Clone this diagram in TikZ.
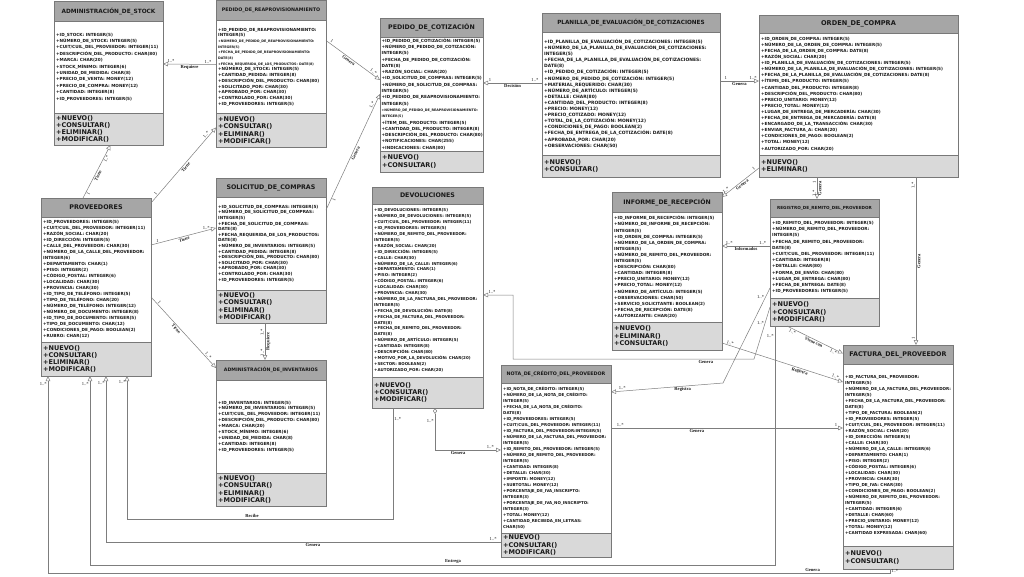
\documentclass[tikz,border=0pt]{standalone}
\usepackage{fontspec}
\setmainfont{DejaVu Sans}
\newfontfamily\serifschrift{Liberation Serif}
\usetikzlibrary{positioning,calc,arrows.meta}

\definecolor{kopfgrau}{RGB}{166,166,166}
\definecolor{methgrau}{RGB}{217,217,217}
\definecolor{rahmen}{RGB}{120,120,120}
\definecolor{liniengrau}{RGB}{125,125,125}
\definecolor{schrift}{RGB}{25,25,25}

\newcommand{\kopfschrift}[1]{\fontsize{#1}{#1}\selectfont\bfseries}
\newcommand{\attrschrift}[2]{\fontsize{#1}{#2}\selectfont\bfseries}
\newcommand{\klein}{\fontsize{3.3}{5}\selectfont}
\newcommand{\methschrift}{\fontsize{6.5}{7.3}\selectfont\bfseries}
\newcommand{\rollenschrift}{\serifschrift\fontsize{4.6}{5}\selectfont\bfseries}
\newcommand{\multschrift}{\serifschrift\fontsize{4.6}{5}\selectfont}

\tikzset{
  kopf/.style={draw=rahmen, fill=kopfgrau, line width=0.6pt, anchor=north west, inner sep=0pt, outer sep=0pt},
  feld/.style={draw=rahmen, fill=white, line width=0.6pt, inner sep=0pt, outer sep=0pt},
  methfeld/.style={feld, fill=methgrau},
  titel/.style={text=schrift, inner sep=0pt, align=center},
  attrtext/.style={text=schrift, inner sep=0pt, align=left, font=\attrschrift{4.2}{6}},
  methtext/.style={text=schrift, inner sep=0pt, align=left, font=\methschrift},
  verbindung/.style={draw=liniengrau, line width=0.5pt},
  pfeil/.style={verbindung, -{Triangle[open, length=5pt, width=4.5pt]}},
  rpfeil/.style={verbindung, {Triangle[open, length=5pt, width=4.5pt]}-},
  rolle/.style={text=schrift, inner sep=1pt, font=\rollenschrift},
  mult/.style={text=schrift, inner sep=1pt, font=\multschrift},
}

\begin{document}
\begin{tikzpicture}[x=1pt, y=-1pt]
    \useasboundingbox (0,0) rectangle (1024,576);

    % Rahmen der Klassen: Name/x/y/Breite/Kopf/Attribute/Methoden
    \foreach \klasse/\x/\y/\w/\hk/\ha/\hm in {stock/54/1/109/20/92/32,
                                             reapro/216/0.5/110/20/93/34,
                                             cotiz/380/18/103/19/114/21,
                                             planilla/542/13/178/19/123/22,
                                             orden/759/15/199/18/122/22,
                                             prov/41/198/110/19/125/34,
                                             solic/216/178/110/19/93/33,
                                             invent/216/360/110/20/93/33,
                                             devol/372/187/111/17/173/31,
                                             nota/501/365/110/18/150/24,
                                             informe/612/192/110/20/110/28,
                                             remito/770/199/109/18/81/28,
                                             factura/843/345/110/19/182/23}
        {
            \node[kopf, minimum width=\w pt, minimum height=\hk pt] (\klasse) at (\x,\y) {};
            \node[feld, minimum width=\w pt, minimum height=\ha pt, below=0pt of \klasse] (\klasse-a) {};
            \node[methfeld, minimum width=\w pt, minimum height=\hm pt, below=0pt of \klasse-a] (\klasse-m) {};
        }

    % ADMINISTRACIÓN_DE_STOCK
    \node[titel, font=\kopfschrift{5.8}] (stock-t) at (stock) {ADMINISTRACIÓN\_DE\_STOCK};
    \node[attrtext, font=\attrschrift{4.2}{6.4}, right=2pt of stock-a.west] (stock-at) {+ID\_STOCK: INTEGER(5)\\+NÚMERO\_DE\_STOCK: INTEGER(5)\\+CUIT/CUIL\_DEL\_PROVEEDOR: INTEGER(11)\\+DESCRIPCIÓN\_DEL\_PRODUCTO: CHAR(80)\\+MARCA: CHAR(20)\\+STOCK\_MÍNIMO: INTEGER(6)\\+UNIDAD\_DE\_MEDIDA: CHAR(8)\\+PRECIO\_DE\_VENTA: MONEY(12)\\+PRECIO\_DE\_COMPRA: MONEY(12)\\+CANTIDAD: INTEGER(8)\\+ID\_PROVEEDORES: INTEGER(5)};
    \node[methtext, right=2pt of stock-m.west] (stock-mt) {+NUEVO()\\+CONSULTAR()\\+ELIMINAR()\\+MODIFICAR()};

    % PEDIDO_DE_REAPROVISIONAMIENTO
    \node[titel, font=\kopfschrift{4.8}] (reapro-t) at (reapro) {PEDIDO\_DE\_REAPROVISIONAMIENTO};
    \node[attrtext, font=\attrschrift{4.2}{5.7}, right=2pt of reapro-a.west] (reapro-at) {+ID\_PEDIDO\_DE\_REAPROVISIONAMIENTO:\\INTEGER(5)\\{\klein +NÚMERO\_DE\_PEDIDO\_DE\_REAPROVISIONAMIENTO:}\\{\klein INTEGER(5)}\\{\klein +FECHA\_DE\_PEDIDO\_DE\_REAPROVISIONAMIENTO:}\\{\klein DATE(8)}\\{\klein +FECHA\_REQUERIDA\_DE\_LOS\_PRODUCTOS: DATE(8)}\\+NÚMERO\_DE\_STOCK: INTEGER(5)\\+CANTIDAD\_PEDIDA: INTEGER(8)\\+DESCRIPCIÓN\_DEL\_PRODUCTO: CHAR(80)\\+SOLICITADO\_POR: CHAR(30)\\+APROBADO\_POR: CHAR(30)\\+CONTROLADO\_POR: CHAR(30)\\+ID\_PROVEEDORES: INTEGER(5)};
    \node[methtext, right=2pt of reapro-m.west] (reapro-mt) {+NUEVO()\\+CONSULTAR()\\+ELIMINAR()\\+MODIFICAR()};

    % PEDIDO_DE_COTIZACIÓN
    \node[titel, font=\kopfschrift{6.3}] (cotiz-t) at (cotiz) {PEDIDO\_DE\_COTIZACIÓN};
    \node[attrtext, font=\attrschrift{4.2}{6.3}, right=1.5pt of cotiz-a.west] (cotiz-at) {+ID\_PEDIDO\_DE\_COTIZACIÓN: INTEGER(5)\\+NÚMERO\_DE\_PEDIDO\_DE\_COTIZACIÓN:\\INTEGER(5)\\+FECHA\_DE\_PEDIDO\_DE\_COTIZACIÓN:\\DATE(8)\\+RAZÓN\_SOCIAL: CHAR(20)\\+ID\_SOLICITUD\_DE\_COMPRAS: INTEGER(5)\\+NÚMERO\_DE\_SOLICITUD\_DE\_COMPRAS:\\INTEGER(5)\\+ID\_PEDIDO\_DE\_REAPROVISIONAMIENTO:\\INTEGER(5)\\{\klein +NÚMERO\_DE\_PEDIDO\_DE\_REAPROVISIONAMIENTO:}\\{\klein INTEGER(5)}\\+ÍTEM\_DEL\_PRODUCTO: INTEGER(5)\\+CANTIDAD\_DEL\_PRODUCTO: INTEGER(8)\\+DESCRIPCIÓN\_DEL\_PRODUCTO: CHAR(80)\\+NOTIFICACIONES: CHAR(255)\\+INDICACIONES: CHAR(80)};
    \node[methtext, right=2pt of cotiz-m.west] (cotiz-mt) {+NUEVO()\\+CONSULTAR()};

    % PLANILLA_DE_EVALUACIÓN_DE_COTIZACIONES
    \node[titel, font=\kopfschrift{5.7}] (planilla-t) at (planilla) {PLANILLA\_DE\_EVALUACIÓN\_DE\_COTIZACIONES};
    \node[attrtext, font=\attrschrift{4.45}{6.1}, right=2pt of planilla-a.west] (planilla-at) {+ID\_PLANILLA\_DE\_EVALUACIÓN\_DE\_COTIZACIONES: INTEGER(5)\\+NÚMERO\_DE\_LA\_PLANILLA\_DE\_EVALUACIÓN\_DE\_COTIZACIONES:\\INTEGER(5)\\+FECHA\_DE\_LA\_PLANILLA\_DE\_EVALUACIÓN\_DE\_COTIZACIONES:\\DATE(8)\\+ID\_PEDIDO\_DE\_COTIZACIÓN: INTEGER(5)\\+NÚMERO\_DE\_PEDIDO\_DE\_COTIZACIÓN: INTEGER(5)\\+MATERIAL\_REQUERIDO: CHAR(30)\\+NÚMERO\_DE\_ARTÍCULO: INTEGER(5)\\+DETALLE: CHAR(80)\\+CANTIDAD\_DEL\_PRODUCTO: INTEGER(8)\\+PRECIO: MONEY(12)\\+PRECIO\_COTIZADO: MONEY(12)\\+TOTAL\_DE\_LA\_COTIZACIÓN: MONEY(12)\\+CONDICIONES\_DE\_PAGO: BOOLEAN(2)\\+FECHA\_DE\_ENTREGA\_DE\_LA\_COTIZACIÓN: DATE(8)\\+APROBADA\_POR: CHAR(20)\\+OBSERVACIONES: CHAR(50)};
    \node[methtext, right=2pt of planilla-m.west] (planilla-mt) {+NUEVO()\\+CONSULTAR()};

    % ORDEN_DE_COMPRA
    \node[titel, font=\kopfschrift{6.6}] (orden-t) at (orden) {ORDEN\_DE\_COMPRA};
    \node[attrtext, font=\attrschrift{4.2}{6.1}, right=2pt of orden-a.west] (orden-at) {+ID\_ORDEN\_DE\_COMPRA: INTEGER(5)\\+NÚMERO\_DE\_LA\_ORDEN\_DE\_COMPRA: INTEGER(5)\\+FECHA\_DE\_LA\_ORDEN\_DE\_COMPRA: DATE(8)\\+RAZÓN\_SOCIAL: CHAR(20)\\+ID\_PLANILLA\_DE\_EVALUACIÓN\_DE\_COTIZACIONES: INTEGER(5)\\+NÚMERO\_DE\_LA\_PLANILLA\_DE\_EVALUACIÓN\_DE\_COTIZACIONES: INTEGER(5)\\+FECHA\_DE\_LA\_PLANILLA\_DE\_EVALUACIÓN\_DE\_COTIZACIONES: DATE(8)\\+ÍTEMS\_DEL\_PRODUCTO: INTEGER(5)\\+CANTIDAD\_DEL\_PRODUCTO: INTEGER(8)\\+DESCRIPCIÓN\_DEL\_PRODUCTO: CHAR(80)\\+PRECIO\_UNITARIO: MONEY(12)\\+PRECIO\_TOTAL: MONEY(12)\\+LUGAR\_DE\_ENTREGA\_DE\_MERCADERÍA: CHAR(30)\\+FECHA\_DE\_ENTREGA\_DE\_MERCADERÍA: DATE(8)\\+ENCARGADO\_DE\_LA\_TRANSACCIÓN: CHAR(30)\\+ENVIAR\_FACTURA\_A: CHAR(20)\\+CONDICIONES\_DE\_PAGO: BOOLEAN(2)\\+TOTAL: MONEY(12)\\+AUTORIZADO\_POR: CHAR(20)};
    \node[methtext, right=2pt of orden-m.west] (orden-mt) {+NUEVO()\\+ELIMINAR()};

    % PROVEEDORES
    \node[titel, font=\kopfschrift{6.4}] (prov-t) at (prov) {PROVEEDORES};
    \node[attrtext, right=2pt of prov-a.west] (prov-at) {+ID\_PROVEEDORES: INTEGER(5)\\+CUIT/CUIL\_DEL\_PROVEEDOR: INTEGER(11)\\+RAZÓN\_SOCIAL: CHAR(20)\\+ID\_DIRECCIÓN: INTEGER(5)\\+CALLE\_DEL\_PROVEEDOR: CHAR(30)\\+NÚMERO\_DE\_LA\_CALLE\_DEL\_PROVEEDOR:\\INTEGER(6)\\+DEPARTAMENTO: CHAR(1)\\+PISO: INTEGER(2)\\+CÓDIGO\_POSTAL: INTEGER(6)\\+LOCALIDAD: CHAR(30)\\+PROVINCIA: CHAR(30)\\+ID\_TIPO\_DE\_TELÉFONO: INTEGER(5)\\+TIPO\_DE\_TELÉFONO: CHAR(20)\\+NÚMERO\_DE\_TELÉFONO: INTEGER(12)\\+NÚMERO\_DE\_DOCUMENTO: INTEGER(8)\\+ID\_TIPO\_DE\_DOCUMENTO: INTEGER(5)\\+TIPO\_DE\_DOCUMENTO: CHAR(12)\\+CONDICIONES\_DE\_PAGO: BOOLEAN(2)\\+RUBRO: CHAR(12)};
    \node[methtext, right=2pt of prov-m.west] (prov-mt) {+NUEVO()\\+CONSULTAR()\\+ELIMINAR()\\+MODIFICAR()};

    % SOLICITUD_DE_COMPRAS
    \node[titel, font=\kopfschrift{6.3}] (solic-t) at (solic) {SOLICITUD\_DE\_COMPRAS};
    \node[attrtext, font=\attrschrift{4.2}{5.6}, right=2pt of solic-a.west] (solic-at) {+ID\_SOLICITUD\_DE\_COMPRAS: INTEGER(5)\\+NÚMERO\_DE\_SOLICITUD\_DE\_COMPRAS:\\INTEGER(5)\\+FECHA\_DE\_SOLICITUD\_DE\_COMPRAS:\\DATE(8)\\+FECHA\_REQUERIDA\_DE\_LOS\_PRODUCTOS:\\DATE(8)\\+NÚMERO\_DE\_INVENTARIOS: INTEGER(5)\\+CANTIDAD\_PEDIDA: INTEGER(8)\\+DESCRIPCIÓN\_DEL\_PRODUCTO: CHAR(80)\\+SOLICITADO\_POR: CHAR(30)\\+APROBADO\_POR: CHAR(30)\\+CONTROLADO\_POR: CHAR(30)\\+ID\_PROVEEDORES: INTEGER(5)};
    \node[methtext, right=2pt of solic-m.west] (solic-mt) {+NUEVO()\\+CONSULTAR()\\+ELIMINAR()\\+MODIFICAR()};

    % ADMINISTRACIÓN_DE_INVENTARIOS
    \node[titel, font=\kopfschrift{4.7}] (invent-t) at (invent) {ADMINISTRACIÓN\_DE\_INVENTARIOS};
    \node[attrtext, font=\attrschrift{4.2}{5.9}, right=2pt of invent-a.west] (invent-at) {+ID\_INVENTARIOS: INTEGER(5)\\+NÚMERO\_DE\_INVENTARIOS: INTEGER(5)\\+CUIT/CUIL\_DEL\_PROVEEDOR: INTEGER(11)\\+DESCRIPCIÓN\_DEL\_PRODUCTO: CHAR(80)\\+MARCA: CHAR(20)\\+STOCK\_MÍNIMO: INTEGER(6)\\+UNIDAD\_DE\_MEDIDA: CHAR(8)\\+CANTIDAD: INTEGER(8)\\+ID\_PROVEEDORES: INTEGER(5)};
    \node[methtext, right=2pt of invent-m.west] (invent-mt) {+NUEVO()\\+CONSULTAR()\\+ELIMINAR()\\+MODIFICAR()};

    % DEVOLUCIONES
    \node[titel, font=\kopfschrift{6.3}] (devol-t) at (devol) {DEVOLUCIONES};
    \node[attrtext, font=\attrschrift{4.0}{5.9}, right=2pt of devol-a.west] (devol-at) {+ID\_DEVOLUCIONES: INTEGER(5)\\+NÚMERO\_DE\_DEVOLUCIONES: INTEGER(5)\\+CUIT/CUIL\_DEL\_PROVEEDOR: INTEGER(11)\\+ID\_PROVEEDORES: INTEGER(5)\\+NÚMERO\_DE\_REMITO\_DEL\_PROVEEDOR:\\INTEGER(5)\\+RAZÓN\_SOCIAL: CHAR(20)\\+ID\_DIRECCIÓN: INTEGER(5)\\+CALLE: CHAR(30)\\+NÚMERO\_DE\_LA\_CALLE: INTEGER(6)\\+DEPARTAMENTO: CHAR(1)\\+PISO: INTEGER(2)\\+CÓDIGO\_POSTAL: INTEGER(6)\\+LOCALIDAD: CHAR(30)\\+PROVINCIA: CHAR(30)\\+NÚMERO\_DE\_LA\_FACTURA\_DEL\_PROVEEDOR:\\INTEGER(5)\\+FECHA\_DE\_DEVOLUCIÓN: DATE(8)\\+FECHA\_DE\_FACTURA\_DEL\_PROVEEDOR:\\DATE(8)\\+FECHA\_DE\_REMITO\_DEL\_PROVEEDOR:\\DATE(8)\\+NÚMERO\_DE\_ARTÍCULO: INTEGER(5)\\+CANTIDAD: INTEGER(8)\\+DESCRIPCIÓN: CHAR(80)\\+MOTIVO\_POR\_LA\_DEVOLUCIÓN: CHAR(20)\\+SECTOR: BOOLEAN(2)\\+AUTORIZADO\_POR: CHAR(20)};
    \node[methtext, right=2pt of devol-m.west] (devol-mt) {+NUEVO()\\+CONSULTAR()\\+MODIFICAR()};

    % NOTA_DE_CRÉDITO_DEL_PROVEEDOR
    \node[titel, font=\kopfschrift{4.8}] (nota-t) at (nota) {NOTA\_DE\_CRÉDITO\_DEL\_PROVEEDOR};
    \node[attrtext, font=\attrschrift{4.0}{6}, right=2pt of nota-a.west] (nota-at) {+ID\_NOTA\_DE\_CRÉDITO: INTEGER(5)\\+NÚMERO\_DE\_LA\_NOTA\_DE\_CRÉDITO:\\INTEGER(5)\\+FECHA\_DE\_LA\_NOTA\_DE\_CRÉDITO:\\DATE(8)\\+ID\_PROVEEDORES: INTEGER(5)\\+CUIT/CUIL\_DEL\_PROVEEDOR: INTEGER(11)\\+ID\_FACTURA\_DEL\_PROVEEDOR:INTEGER(5)\\+NÚMERO\_DE\_LA\_FACTURA\_DEL\_PROVEEDOR:\\INTEGER(5)\\+ID\_REMITO\_DEL\_PROVEEDOR: INTEGER(5)\\+NÚMERO\_DE\_REMITO\_DEL\_PROVEEDOR:\\INTEGER(5)\\+CANTIDAD: INTEGER(8)\\+DETALLE: CHAR(30)\\+IMPORTE: MONEY(12)\\+SUBTOTAL: MONEY(12)\\+PORCENTAJE\_DE\_IVA\_INSCRIPTO:\\INTEGER(3)\\+PORCENTAJE\_DE\_IVA\_NO\_INSCRIPTO:\\INTEGER(3)\\+TOTAL: MONEY(12)\\+CANTIDAD\_RECIBIDA\_EN\_LETRAS:\\CHAR(50)};
    \node[methtext, right=2pt of nota-m.west] (nota-mt) {+NUEVO()\\+CONSULTAR()\\+MODIFICAR()};

    % INFORME_DE_RECEPCIÓN
    \node[titel, font=\kopfschrift{6.2}] (informe-t) at (informe) {INFORME\_DE\_RECEPCIÓN};
    \node[attrtext, font=\attrschrift{4.2}{6.1}, right=2pt of informe-a.west] (informe-at) {+ID\_INFORME\_DE\_RECEPCIÓN: INTEGER(5)\\+NÚMERO\_DE\_INFORME\_DE\_RECEPCIÓN:\\INTEGER(5)\\+ID\_ORDEN\_DE\_COMPRA: INTEGER(5)\\+NÚMERO\_DE\_LA\_ORDEN\_DE\_COMPRA:\\INTEGER(5)\\+NÚMERO\_DE\_REMITO\_DEL\_PROVEEDOR:\\INTEGER(5)\\+DESCRIPCIÓN: CHAR(80)\\+CANTIDAD: INTEGER(8)\\+PRECIO\_UNITARIO: MONEY(12)\\+PRECIO\_TOTAL: MONEY(12)\\+NÚMERO\_DE\_ARTÍCULO: INTEGER(5)\\+OBSERVACIONES: CHAR(50)\\+SERVICIO\_SOLICITANTE: BOOLEAN(2)\\+FECHA\_DE\_RECEPCIÓN: DATE(8)\\+AUTORIZANTE: CHAR(20)};
    \node[methtext, right=2pt of informe-m.west] (informe-mt) {+NUEVO()\\+ELIMINAR()\\+CONSULTAR()};

    % REGISTRO_DE_REMITO_DEL_PROVEEDOR
    \node[titel, font=\kopfschrift{4.2}] (remito-t) at (remito) {REGISTRO\_DE\_REMITO\_DEL\_PROVEEDOR};
    \node[attrtext, font=\attrschrift{4.2}{6.2}, right=2pt of remito-a.west] (remito-at) {+ID\_REMITO\_DEL\_PROVEEDOR: INTEGER(5)\\+NÚMERO\_DE\_REMITO\_DEL\_PROVEEDOR:\\INTEGER(5)\\+FECHA\_DE\_REMITO\_DEL\_PROVEEDOR:\\DATE(8)\\+CUIT/CUIL\_DEL\_PROVEEDOR: INTEGER(11)\\+CANTIDAD: INTEGER(8)\\+DETALLE: CHAR(80)\\+FORMA\_DE\_ENVÍO: CHAR(80)\\+LUGAR\_DE\_ENTREGA: CHAR(80)\\+FECHA\_DE\_ENTREGA: DATE(8)\\+ID\_PROVEEDORES: INTEGER(5)};
    \node[methtext, right=2pt of remito-m.west] (remito-mt) {+NUEVO()\\+CONSULTAR()\\+MODIFICAR()};

    % FACTURA_DEL_PROVEEDOR
    \node[titel, font=\kopfschrift{6.4}] (factura-t) at (factura) {FACTURA\_DEL\_PROVEEDOR};
    \node[attrtext, font=\attrschrift{4.1}{6}, right=2pt of factura-a.west] (factura-at) {+ID\_FACTURA\_DEL\_PROVEEDOR:\\INTEGER(5)\\+NÚMERO\_DE\_LA\_FACTURA\_DEL\_PROVEEDOR:\\INTEGER(5)\\+FECHA\_DE\_LA\_FACTURA\_DEL\_PROVEEDOR:\\DATE(8)\\+TIPO\_DE\_FACTURA: BOOLEAN(2)\\+ID\_PROVEEDORES: INTEGER(5)\\+CUIT/CUIL\_DEL\_PROVEEDOR: INTEGER(11)\\+RAZÓN\_SOCIAL: CHAR(20)\\+ID\_DIRECCIÓN: INTEGER(5)\\+CALLE: CHAR(30)\\+NÚMERO\_DE\_LA\_CALLE: INTEGER(6)\\+DEPARTAMENTO: CHAR(1)\\+PISO: INTEGER(2)\\+CÓDIGO\_POSTAL: INTEGER(6)\\+LOCALIDAD: CHAR(30)\\+PROVINCIA: CHAR(30)\\+TIPO\_DE\_IVA: CHAR(30)\\+CONDICIONES\_DE\_PAGO: BOOLEAN(2)\\+NÚMERO\_DE\_REMITO\_DEL\_PROVEEDOR:\\INTEGER(5)\\+CANTIDAD: INTEGER(6)\\+DETALLE: CHAR(60)\\+PRECIO\_UNITARIO: MONEY(12)\\+TOTAL: MONEY(12)\\+CANTIDAD EXPRESADA: CHAR(60)};
    \node[methtext, right=2pt of factura-m.west] (factura-mt) {+NUEVO()\\+CONSULTAR()};

    % Knickpunkte
    \coordinate (knickQ) at (723,383);
    \coordinate (knickR1) at (754,359);
    \coordinate (knickR2) at (513,359);

    % Verbindungen oben
    \draw[pfeil] ($(reapro-a.west)+(0,-2.5)$) -- node[rolle, below] (l1) {Requiere} node[mult, above, pos=.15] (m1) {1..*} node[mult, above, pos=.85] (m2) {1..*} ($(stock-a.east)+(0,-3)$);
    \draw[pfeil] ($(prov.north)+(-13,0)$) -- node[rolle, sloped, below, pos=.45] (l2) {Tiene} node[mult, sloped, below, pos=.1] (m3) {1} node[mult, sloped, below, pos=.76] (m4) {1..*} ($(stock-m.south)+(2,0)$);
    \draw[pfeil] ($(prov.north east)+(0,5)$) -- node[rolle, sloped, below] (l3) {Tiene} node[mult, sloped, above, pos=.1] (m5) {1} node[mult, sloped, above, pos=.88] (m6) {1..*} ($(reapro-m.west)+(0,-3)$);
    \draw[pfeil] ($(prov-a.north east)+(0,28)$) -- node[rolle, sloped, below] (l4) {Tiene} node[mult, above, pos=.1] (m7) {1} node[mult, above, pos=.85] (m8) {1..*} ($(solic-a.north west)+(0,31)$);
    \draw[pfeil] ($(prov-a.north east)+(0,80)$) -- node[rolle, sloped, below, pos=.42] (l5) {Tiene} node[mult, sloped, above, pos=.1] (m9) {1} node[mult, sloped, above, pos=.85] (m10) {1..*} ($(invent.west)+(0,-2)$);
    \draw[rpfeil] ($(invent.north)+(-6,0)$) -- node[rolle, sloped, below] (l6) {Requiere} node[mult, sloped, above, pos=.2] (m11) {1..*} node[mult, sloped, above, pos=.75] (m12) {1..*} ($(solic-m.south)+(-6,0)$);
    \draw[pfeil] ($(reapro-a.north east)+(0,20)$) -- node[rolle, sloped, below, pos=.45] (l7) {Genera} node[mult, sloped, above, pos=.08] (m13) {1} node[mult, sloped, above, pos=.85] (m14) {1..*} ($(cotiz-a.north west)+(0,43)$);
    \draw[pfeil] ($(solic-a.north east)+(0,13)$) -- node[rolle, sloped, below] (l8) {Genera} node[mult, sloped, below, pos=.1] (m15) {1} node[mult, sloped, above, pos=.9] (m16) {1..*} ($(cotiz-a.north west)+(0,57)$);
    \draw[rpfeil] ($(cotiz-a.east)+(0,-11)$) -- node[rolle, below] (l9) {Decisión} node[mult, above, pos=.12] (m17) {1} node[mult, above, pos=.88] (m18) {1..*} ($(planilla-a.west)+(0,-10.5)$);
    \draw[pfeil] ($(planilla-a.east)+(0,-12.5)$) -- node[rolle, below] (l10) {Genera} node[mult, above, pos=.15] (m19) {1} node[mult, above, pos=.85] (m20) {1..*} ($(orden-a.west)+(0,-13)$);

    % Verbindungen rechts
    \draw[rpfeil] ($(informe.north east)+(0,5)$) -- node[rolle, sloped, below] (l11) {Genera} node[mult, sloped, above, pos=.15] (m21) {1..*} node[mult, sloped, above, pos=.9] (m22) {1} ($(orden-m.west)+(0,2)$);
    \draw[rpfeil] ($(remito.north)+(-7.5,0)$) -- node[rolle, sloped, below] (l12) {Genera} node[mult, sloped, above, pos=.25] (m23) {1..*} node[mult, sloped, above, pos=.75] (m24) {1} ($(orden-m.south)+(-41.5,0)$);
    \draw[rpfeil] ($(factura.north)+(18,0)$) -- node[rolle, sloped, below] (l13) {Genera} node[mult, sloped, above, pos=.04] (m25) {1} node[mult, sloped, above, pos=.95] (m26) {1..*} ($(orden-m.south)+(57.5,0)$);
    \draw[rpfeil] ($(informe-a.east)+(0,-21)$) -- node[rolle, below] (l14) {Informados} node[mult, above, pos=.15] (m27) {1..*} node[mult, above, pos=.85] (m28) {1..*} ($(remito-a.west)+(0,-11.5)$);
    \draw[pfeil] ($(remito-m.south west)+(17,0)$) -- node[rolle, sloped, below] (l15) {Viene con} node[mult, sloped, below, pos=.12] (m29) {1..*} node[mult, sloped, below, pos=.85] (m30) {1..*} ($(factura.west)+(0,-1)$);
    \draw[pfeil] ($(informe-m.east)+(0,7)$) -- node[rolle, sloped, below, pos=.65] (l16) {Registra} node[mult, sloped, above, pos=.06] (m31) {1..*} node[mult, sloped, above, pos=.93] (m32) {1..*} ($(factura-a.north west)+(0,18)$);
    \draw[pfeil] ($(remito-a.south west)+(0,-10)$) -- node[mult, left, pos=.1] (m33) {1..*} (knickQ) -- node[rolle, below, pos=.36] (l17) {Registra} node[mult, above, pos=.9] (m34) {1..*} ($(nota-a.north east)+(0,9)$);
    \draw[pfeil] ($(remito-m.north west)+(0,9)$) -- node[mult, left, pos=.3] (m35) {1..*} (knickR1) -- node[rolle, below, pos=.2] (l18) {Genera} (knickR2) |- node[mult, above, pos=.85] (m36) {1..*} ($(devol-a.north east)+(0,91)$);
    \draw[pfeil] ($(nota-a.north east)+(0,45)$) -- node[rolle, below, pos=.37] (l19) {Genera} node[mult, above, pos=.04] (m37) {1..*} node[mult, above, pos=.97] (m38) {1} ($(factura-a.north west)+(0,64)$);
    \draw[verbindung, {Diamond[open, length=6pt, width=4pt]}-{Triangle[open, length=5pt, width=4.5pt]}] ($(devol-m.south west)+(63,0)$) |- node[rolle, below, pos=.675] (l20) {Genera} node[mult, left, pos=.15] (m39) {1..*} node[mult, above, pos=.92] (m40) {1..*} ($(nota-a.north west)+(0,67)$);

    % Verbindungen unten zu PROVEEDORES
    \draw[pfeil] ($(devol-m.south west)+(21,0)$) -- node[mult, right, pos=.1] (m41) {1..*} ++(0,111) -| node[rolle, above, pos=.265] (l21) {Recibe} node[mult, left, pos=.98] (m42) {1..*} ($(prov-m.south)+(31,0)$);
    \draw[pfeil] ($(nota-m.west)+(0,-3)$) -| node[rolle, below, pos=.238] (l22) {Genera} node[mult, above, pos=.01] (m43) {1..*} node[mult, left, pos=.98] (m44) {1..*} ($(prov-m.south)+(10,0)$);
    \draw[pfeil] ($(remito-m.south west)+(5,0)$) -- node[mult, left, pos=.04] (m45) {1..*} ++(0,239) -| node[rolle, above, pos=.235] (l23) {Entrega} node[mult, left, pos=.98] (m46) {1..*} ($(prov-m.south)+(-6,0)$);
    \draw[pfeil] ($(factura-m.south)+(-8,0)$) -- node[mult, right, pos=.5] (m47) {1..*} ++(0,4) -| node[rolle, above, pos=.046] (l24) {Genera} node[mult, left, pos=.98] (m48) {1..*} ($(prov-m.south)+(-48,0)$);

\end{tikzpicture}
\end{document}
